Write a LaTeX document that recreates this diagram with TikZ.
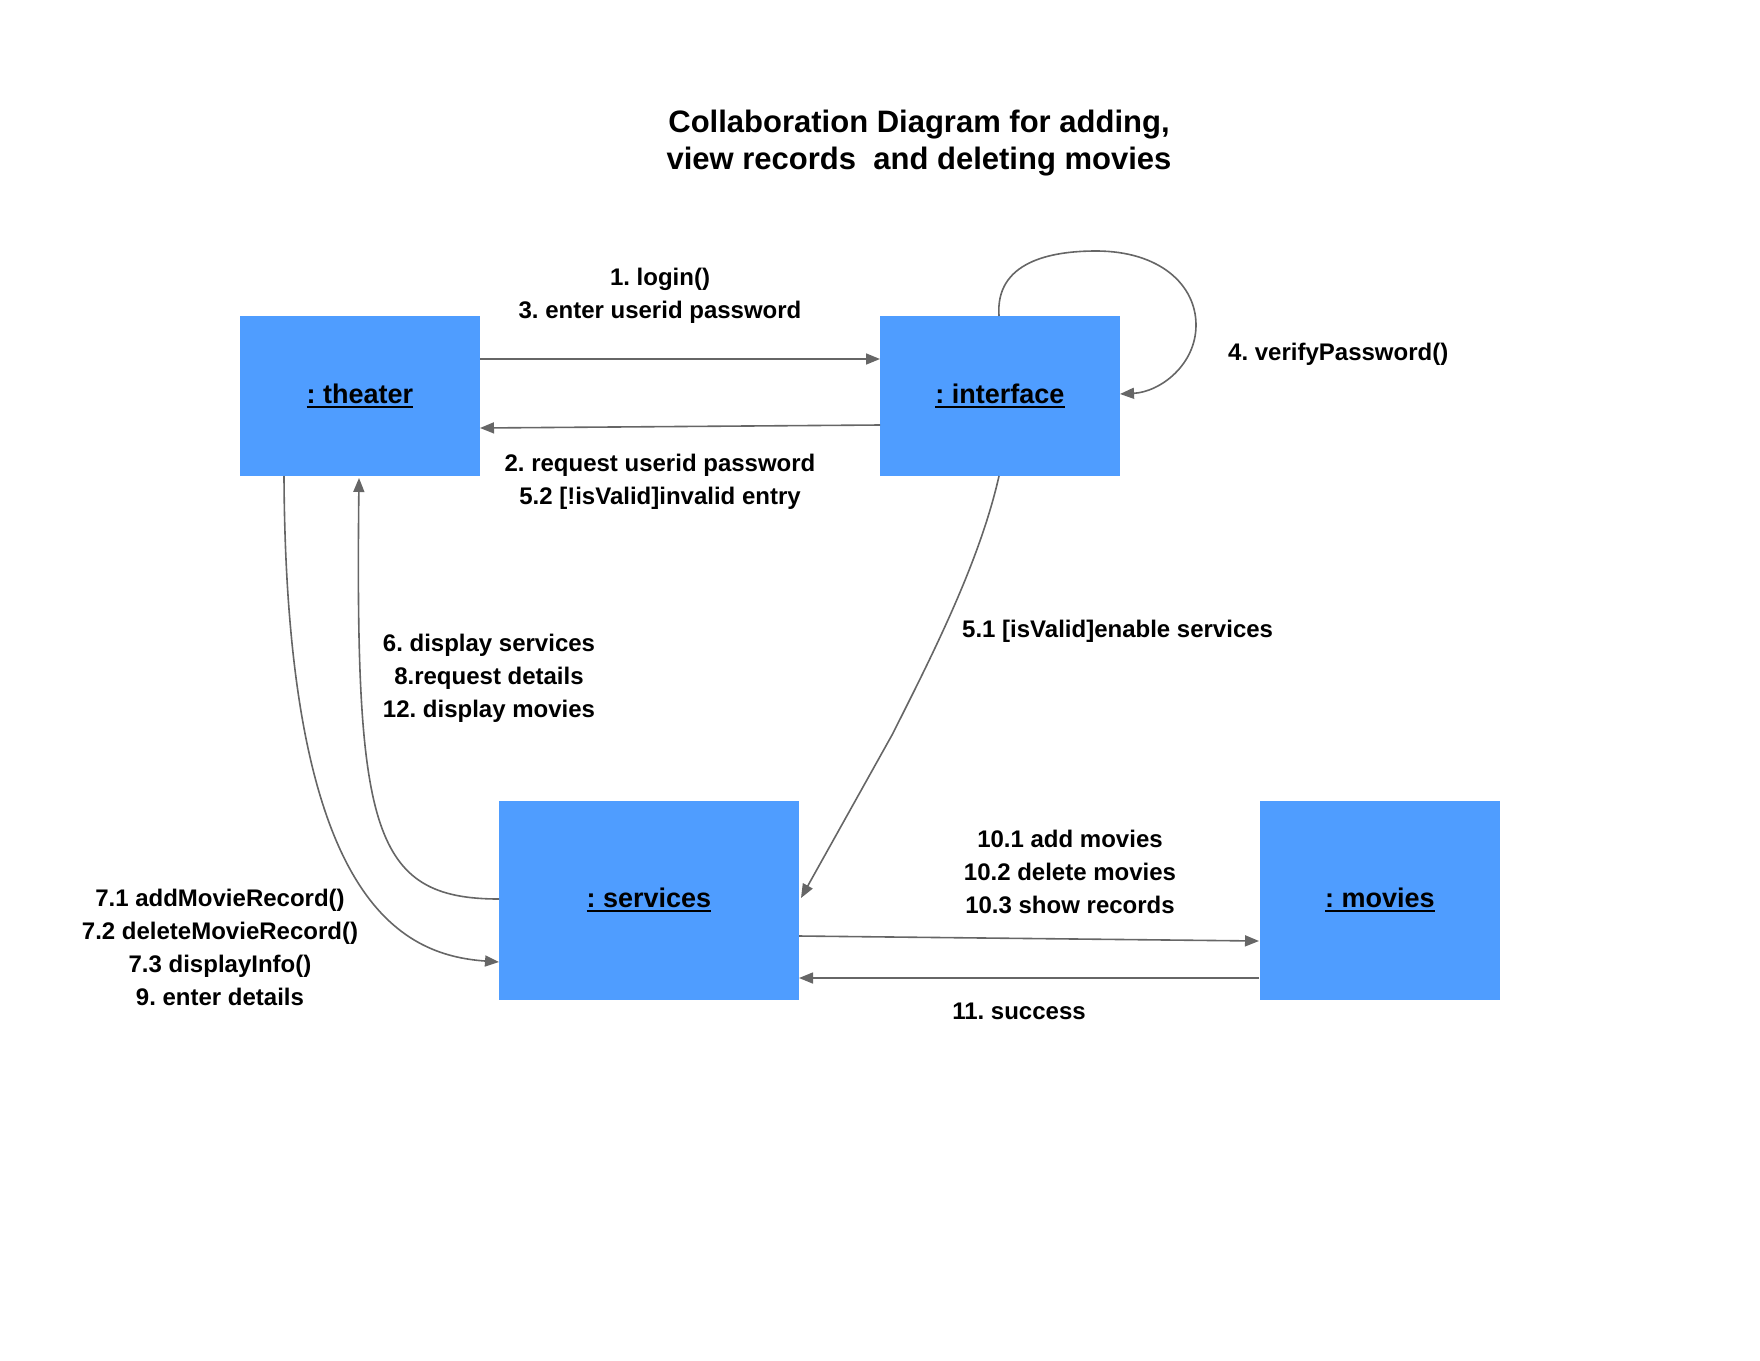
\documentclass[tikz,border=0pt]{standalone}
\usepackage{fontspec}
\setmainfont{Liberation Sans}
\usetikzlibrary{arrows.meta}
\frenchspacing
\definecolor{boxblue}{RGB}{79,157,255}
\definecolor{arrgray}{RGB}{102,102,102}
\newcommand{\boxul}[1]{\setbox0\hbox{#1}\rlap{\rule[-4pt]{\wd0}{2pt}}\box0}
\tikzset{
  objbox/.style={draw=none,fill=boxblue,minimum width=240pt,minimum height=160pt,inner sep=0pt,font=\bfseries\fontsize{27}{32}\selectfont},
  lbl/.style={align=center,font=\bfseries\fontsize{24}{33}\selectfont,inner sep=0pt},
  msg/.style={draw=arrgray,line width=1.6pt,-{Triangle[length=14pt,width=11pt]}},
}
\begin{document}
\begin{tikzpicture}[x=1pt,y=-1pt]
\frenchspacing
\useasboundingbox (0,0) rectangle (1760,1360);
% title
\node[align=center,font=\bfseries\fontsize{31}{37}\selectfont,inner sep=0pt] (title) at (919,143) {Collaboration Diagram for adding,\\view records\ \ and deleting movies};
% objects
\node[objbox] (theater) at (360,396) {\boxul{: theater}};
\node[objbox] (interface) at (1000,396) {\boxul{: interface}};
\node[objbox,minimum width=300pt,minimum height=199pt] (services) at (649,900) {\boxul{: services}};
\node[objbox,minimum width=240pt,minimum height=199pt] (movies) at (1380,900) {\boxul{: movies}};
% coordinates
\coordinate (thR1) at (480,359);
\coordinate (inL1) at (880,359);
\coordinate (inL2) at (880,425);
\coordinate (thR2) at (480,428);
\coordinate (inT) at (999,316);
\coordinate (inR) at (1120,394);
\coordinate (thB1) at (284,476);
\coordinate (svL2) at (499,962);
\coordinate (svL1) at (499,899);
\coordinate (thB2) at (359,478);
\coordinate (inB) at (999,476);
\coordinate (svR) at (801,898);
\coordinate (svR1) at (799,936);
\coordinate (mvL1) at (1259,941);
\coordinate (mvL2) at (1259,978);
\coordinate (svR2) at (799,978);
% connectors
\draw[msg] (thR1) -- (inL1);
\draw[msg] (inL2) -- (thR2);
\draw[msg] (inT) .. controls (995,262) and (1050,251) .. (1096,251)
  .. controls (1160,251) and (1196,285) .. (1196,325)
  .. controls (1196,365) and (1160,392) .. (inR);
\draw[msg] (thB1) .. controls (286,900) and (400,955) .. (svL2);
\draw[msg] (svL1) .. controls (372,899) and (355,830) .. (thB2);
\draw[msg] (inB) .. controls (980,560) and (935,650) .. (892,735) -- (svR);
\draw[msg] (svR1) -- (mvL1);
\draw[msg] (mvL2) -- (svR2);
% labels
\node[lbl] (l1) at (660,296) {1. login()\\3. enter userid password};
\node[lbl] (l2) at (660,482) {2. request userid password\\5.2 [!isValid]invalid entry};
\node[lbl,anchor=west] (l4) at (1228,354) {4. verifyPassword()};
\node[lbl,anchor=west] (l51) at (962,631) {5.1 [isValid]enable services};
\node[lbl] (l6) at (489,678) {6. display services\\8.request details\\12. display movies};
\node[lbl] (l7) at (220,947) {7.1 addMovieRecord()\\7.2 deleteMovieRecord()\\7.3 displayInfo()\\9. enter details};
\node[lbl] (l10) at (1070,872) {10.1 add movies\\10.2 delete movies\\10.3 show records};
\node[lbl] (l11) at (1019,1011) {11. success};
\end{tikzpicture}
\end{document}
